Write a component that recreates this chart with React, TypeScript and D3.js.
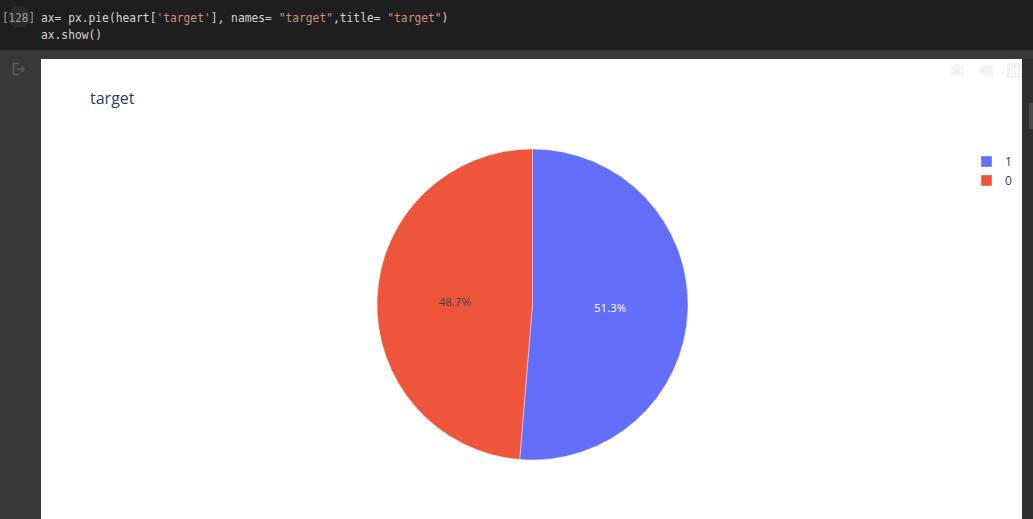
import React from "react";
import * as d3 from "d3";

const categories = ["1", "0"];
const counts = [526, 499];
const colors = ["#636efa", "#EF553B"];
const titleText = "target";
const codeLine1 = [
  { t: "ax= px.pie(heart[", c: "#d4d4d4" },
  { t: "'target'", c: "#ce9178" },
  { t: "], names= ", c: "#d4d4d4" },
  { t: "\"target\"", c: "#ce9178" },
  { t: ",title= ", c: "#d4d4d4" },
  { t: "\"target\"", c: "#ce9178" },
  { t: ")", c: "#d4d4d4" },
];
const codeLine2 = "ax.show()";

export default function App() {
  const W = 1033;
  const H = 519;
  const cx = 532.5;
  const cy = 304.5;
  const r = 155.5;
  const total = d3.sum(counts);
  const pie = d3.pie<number>().sort(null).value((d) => d)(counts);
  const arc = d3.arc<d3.PieArcDatum<number>>().innerRadius(0).outerRadius(r);
  const labelArc = d3.arc<d3.PieArcDatum<number>>().innerRadius(0).outerRadius(r);
  const fmt = d3.format(".1%");
  const charW = 6.79;
  const codeFont = "'DejaVu Sans Mono', monospace";
  let xpos = 41;
  const legendY = d3.scaleBand().domain(categories).range([152, 190]).padding(0);

  return (
    <svg
      width={W}
      height={H}
      style={{ position: "absolute", left: 0, top: 0, display: "block" }}
    >
      <rect x={0} y={0} width={W} height={H} fill="#383838" />
      <rect x={0} y={0} width={W} height={50} fill="#1e1e1e" />
      {/* cell number */}
      <circle cx={19} cy={17} r={11} fill="#2a2a2a" />
      <text x={2} y={22} fontFamily={codeFont} fontSize={11.5} fill="#a0a0a0" textLength={33} lengthAdjust="spacingAndGlyphs">
        [128]
      </text>
      {codeLine1.map((s, i) => {
        const x = xpos;
        xpos += s.t.length * charW;
        return (
          <text key={i} x={x} y={22} fontFamily={codeFont} fontSize={11.5} fill={s.c} textLength={s.t.length * charW} lengthAdjust="spacingAndGlyphs" style={{ whiteSpace: "pre" }}>
            {s.t}
          </text>
        );
      })}
      <text x={41} y={39} fontFamily={codeFont} fontSize={11.5} fill="#d4d4d4" textLength={codeLine2.length * charW} lengthAdjust="spacingAndGlyphs">
        {codeLine2}
      </text>
      {/* output icon */}
      <g stroke="#5c5c5c" strokeWidth={1.6} fill="none">
        <path d="M19,63.5 H13.5 V74.5 H19" />
        <path d="M17,69 H24 M21.5,66.5 L24,69 L21.5,71.5" />
      </g>
      {/* plot area */}
      <rect x={41} y={59} width={981} height={H - 59} fill="#ffffff" />
      {/* scrollbar */}
      <rect x={1022} y={59} width={11} height={H - 59} fill="#2f2f2f" />
      <rect x={1029} y={103} width={4} height={26} fill="#4a4a4a" />
      {/* modebar */}
      <g fill="#f6f6f6">
        <rect x={950} y={66} width={14} height={10} rx={1.5} />
        <rect x={954} y={64} width={6} height={3} />
        <path d="M978,70 L983,65 H993 V75 H983 Z" fill="#f2f2f2" />
        <rect x={1007} y={63} width={15} height={15} rx={1} fill="#f0f0f0" />
      </g>
      <g fill="#ffffff">
        <circle cx={957} cy={71} r={2.5} fill="#f1f1f1" />
        <rect x={1010} y={66} width={1.5} height={10} />
        <rect x={1013} y={68} width={1.5} height={8} />
        <rect x={1016} y={66} width={1.5} height={10} />
        <rect x={1019} y={69} width={1.5} height={7} />
      </g>
      {/* title */}
      <text x={90} y={104} fontFamily="'Open Sans', sans-serif" fontSize={16} fill="#2a3f5f">
        {titleText}
      </text>
      {/* pie */}
      <g transform={`translate(${cx},${cy})`}>
        {pie.map((d, i) => (
          <path key={i} d={arc(d) || ""} fill={colors[i]} stroke="#ffffff" strokeOpacity={0.5} strokeWidth={0.8} />
        ))}
        {pie.map((d, i) => {
          const [lx, ly] = labelArc.centroid(d);
          return (
            <text key={i} x={lx} y={ly} textAnchor="middle" dominantBaseline="central" fontFamily="'Open Sans', sans-serif" fontSize={11.5} fill={i === 0 ? "#ffffff" : "#444444"}>
              {fmt(d.data / total)}
            </text>
          );
        })}
      </g>
      {/* legend */}
      {categories.map((c, i) => {
        const y = (legendY(c) || 0) + legendY.bandwidth() / 2;
        return (
          <g key={c}>
            <rect x={981} y={y - 5.5} width={11} height={11} fill={colors[i]} stroke="#ffffff" strokeOpacity={0.4} strokeWidth={1} />
            <text x={1005} y={y} dominantBaseline="central" fontFamily="'Open Sans', sans-serif" fontSize={12} fill="#2a3f5f">
              {c}
            </text>
          </g>
        );
      })}
    </svg>
  );
}
